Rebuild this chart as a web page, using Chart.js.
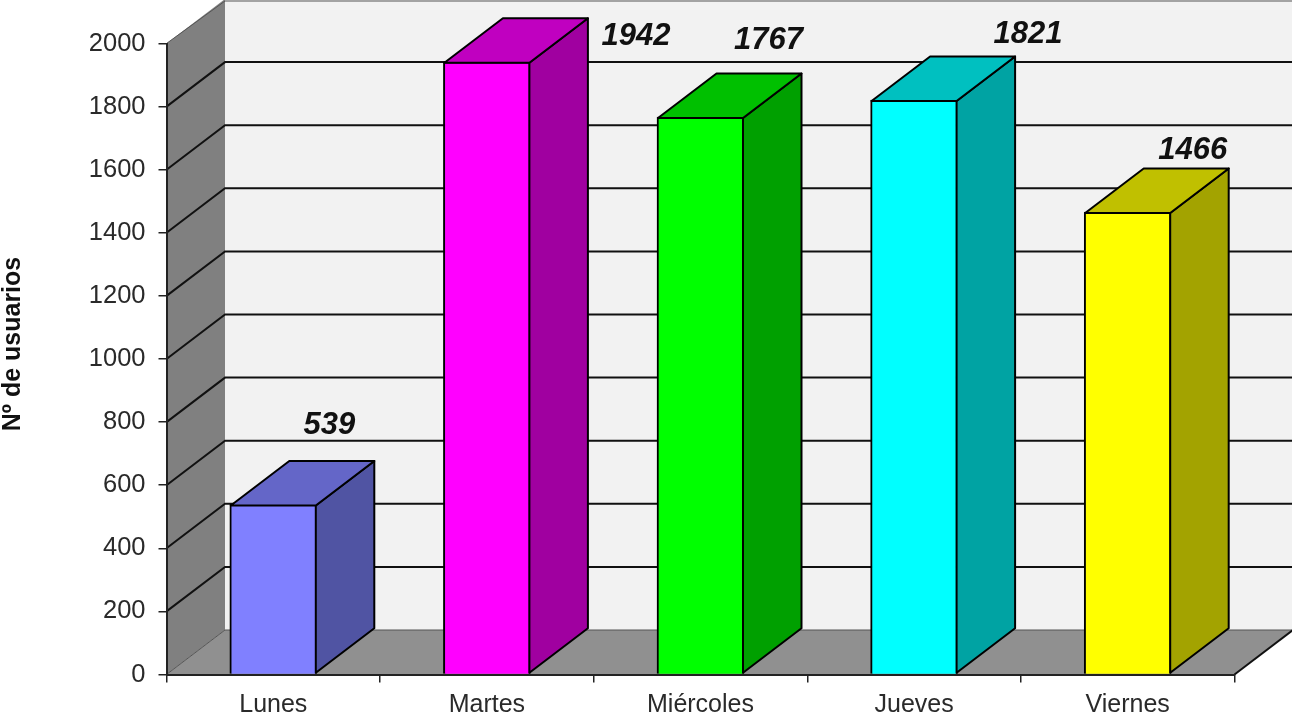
<!DOCTYPE html>
<html>
<head>
<meta charset="utf-8">
<title>Usuarios por día</title>
<script src="https://cdn.jsdelivr.net/npm/chart.js@4/dist/chart.umd.min.js"></script>
<style>
  html, body { margin: 0; padding: 0; background: #fff; }
  canvas { display: block; }
</style>
</head>
<body>
<canvas id="grafico" width="1292" height="716"></canvas>
<script>
'use strict';
var dias = ['Lunes', 'Martes', 'Miércoles', 'Jueves', 'Viernes'];
var usuarios = [539, 1942, 1767, 1821, 1466];
var tituloEjeY = 'Nº de usuarios';

var colorFrente = ['#8080ff', '#ff00ff', '#00ff00', '#00ffff', '#ffff00'];
var colorLado = ['#5054a3', '#a000a0', '#00a000', '#00a3a3', '#a3a300'];
var colorTapa = ['#6466c8', '#c000c0', '#00c000', '#00c0c0', '#c0c000'];

// where each value label sits, relative to the top centre of its bar
var etiquetaDx = [56, 149, 68, 114, 65];
var etiquetaDy = [-79, -25, -77, -66, -62];

// depth of the fake 3d box
var fondoX = 58.5;
var fondoY = -44.5;

function poligono(ctx, puntos, relleno) {
  ctx.beginPath();
  ctx.moveTo(puntos[0][0], puntos[0][1]);
  for (var i = 1; i < puntos.length; i++) {
    ctx.lineTo(puntos[i][0], puntos[i][1]);
  }
  ctx.closePath();
  ctx.fillStyle = relleno;
  ctx.fill();
}

var caja3d = {
  id: 'caja3d',
  beforeDraw: function (chart) {
    var ctx = chart.ctx;
    var a = chart.chartArea;
    var y = chart.scales.y;
    ctx.save();
    // back wall, left wall, floor
    poligono(ctx, [[a.left + fondoX, a.top + fondoY], [a.right + fondoX, a.top + fondoY],
      [a.right + fondoX, a.bottom + fondoY], [a.left + fondoX, a.bottom + fondoY]], '#f2f2f2');
    poligono(ctx, [[a.left, a.top], [a.left + fondoX, a.top + fondoY],
      [a.left + fondoX, a.bottom + fondoY], [a.left, a.bottom]], '#808080');
    poligono(ctx, [[a.left, a.bottom], [a.left + fondoX, a.bottom + fondoY],
      [a.right + fondoX, a.bottom + fondoY], [a.right, a.bottom]], '#909090');

    y.ticks.forEach(function (t) {
      var py = y.getPixelForValue(t.value);
      var borde = t.value === 0 || t.value === y.max;
      ctx.strokeStyle = borde ? '#555' : '#111';
      ctx.lineWidth = borde ? 1 : 2;
      ctx.beginPath();
      ctx.moveTo(a.left, py);
      // top edge would fall just off the canvas, keep it visible
      ctx.lineTo(a.left + fondoX, Math.max(1, py + fondoY));
      ctx.lineTo(a.right + fondoX, Math.max(1, py + fondoY));
      ctx.stroke();
    });
    // right edge of the floor
    ctx.strokeStyle = '#111';
    ctx.lineWidth = 2;
    ctx.beginPath();
    ctx.moveTo(a.right, a.bottom);
    ctx.lineTo(a.right + fondoX, a.bottom + fondoY);
    ctx.stroke();
    ctx.restore();
  },
  afterDatasetsDraw: function (chart) {
    var ctx = chart.ctx;
    var barras = chart.getDatasetMeta(0).data;
    ctx.save();
    barras.forEach(function (b, i) {
      var izq = b.x - b.width / 2 + 1;
      var der = b.x + b.width / 2 - 1;
      var arriba = b.y + 1;
      var abajo = b.base - 1;
      var lado = [[der, arriba], [der + fondoX, arriba + fondoY], [der + fondoX, abajo + fondoY], [der, abajo]];
      var tapa = [[izq, arriba], [izq + fondoX, arriba + fondoY], [der + fondoX, arriba + fondoY], [der, arriba]];
      [[lado, colorLado[i]], [tapa, colorTapa[i]]].forEach(function (cara) {
        poligono(ctx, cara[0], cara[1]);
        ctx.strokeStyle = '#000';
        ctx.lineWidth = 2;
        ctx.lineJoin = 'round';
        ctx.stroke();
      });
      ctx.fillStyle = '#111';
      ctx.font = 'italic bold 31px "Liberation Sans"';
      ctx.textAlign = 'center';
      ctx.textBaseline = 'middle';
      ctx.fillText(String(usuarios[i]), b.x + etiquetaDx[i], b.y + etiquetaDy[i]);
    });
    // axis title sits above the middle of the axis, so it is placed by hand
    ctx.translate(13, 344);
    ctx.rotate(-Math.PI / 2);
    ctx.fillStyle = '#111';
    ctx.font = 'bold 25px "Liberation Sans"';
    ctx.textAlign = 'center';
    ctx.textBaseline = 'middle';
    ctx.fillText(tituloEjeY, 0, 0);
    ctx.restore();
  }
};

new Chart(document.getElementById('grafico'), {
  type: 'bar',
  plugins: [caja3d],
  data: {
    labels: dias,
    datasets: [{
      data: usuarios,
      backgroundColor: colorFrente,
      borderColor: '#000',
      borderWidth: 2,
      barThickness: 87
    }]
  },
  options: {
    responsive: false,
    animation: false,
    layout: { padding: { top: 43.5, right: 57.5, left: 0, bottom: 0 } },
    plugins: { legend: { display: false }, tooltip: { enabled: false } },
    scales: {
      x: {
        afterFit: function (s) { s.height = 41.5; },
        border: { color: '#222', width: 2 },
        grid: { drawOnChartArea: false, drawTicks: true, tickLength: 8, color: '#222', lineWidth: 1.5 },
        ticks: {
          color: '#2a2a2a',
          padding: 8,
          maxRotation: 0,
          autoSkip: false,
          font: { family: '"Liberation Sans"', size: 25 }
        }
      },
      y: {
        min: 0,
        max: 2000,
        afterFit: function (s) { s.width = 166.5; },
        border: { color: '#222', width: 2 },
        grid: { drawOnChartArea: false, drawTicks: true, tickLength: 8, color: '#222', lineWidth: 1.5 },
        ticks: {
          stepSize: 200,
          color: '#2a2a2a',
          padding: 13,
          callback: function (v) { return String(v); },
          font: { family: '"Liberation Sans"', size: 25.5 }
        }
      }
    }
  }
});
</script>
</body>
</html>
